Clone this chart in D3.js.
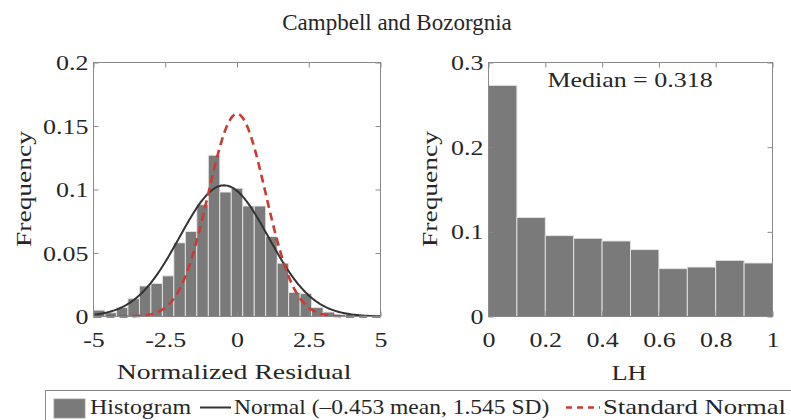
<!DOCTYPE html>
<html>
<head>
<meta charset="utf-8">
<script src="https://cdn.jsdelivr.net/npm/d3@7"></script>
<style>
  body { margin: 0; background: #fff; }
  svg { display: block; }
</style>
</head>
<body>
<svg id="chart" width="791" height="420"></svg>
<script>
// ---- data ----
// Normalized residuals: 25 bins of width 0.4 starting at -5
const residualBinStart = -5;
const residualBinWidth = 0.4;
const residualFreq = [0.005, 0.003, 0.007, 0.014, 0.024, 0.026, 0.032, 0.058, 0.067, 0.088,
                      0.127, 0.098, 0.101, 0.087, 0.087, 0.063, 0.042, 0.019, 0.018, 0.007,
                      0.0035, 0.0015, 0.001, 0.0005, 0.0003];
const residualTicks = [-5, -2.5, 0, 2.5, 5];
const residualFreqTicks = [0, 0.05, 0.1, 0.15, 0.2];

// Fitted normal and the standard normal
const fitMean = -0.453;
const fitSD = 1.545;
const stdMean = 0;
const stdSD = 1;

// LH: 10 bins of width 0.1
const lhBinStart = 0;
const lhBinWidth = 0.1;
const lhFreq = [0.273, 0.117, 0.0955, 0.0924, 0.0892, 0.079, 0.0565, 0.0584, 0.0663, 0.0632];
const lhTicks = [0, 0.2, 0.4, 0.6, 0.8, 1];
const lhFreqTicks = [0, 0.1, 0.2, 0.3];
const lhMedian = 0.318;

const titleText = "Campbell and Bozorgnia";
const legendLabels = ["Histogram", "Normal (\u20130.453 mean, 1.545 SD)", "Standard Normal"];

// ---- styling ----
const FONT = "'Liberation Serif', 'Times New Roman', serif";
const TEXT = "#262626";
const AXIS = "#8a8a8a";
const BAR = "#7a7a7a";
const BAR_EDGE = "#e6e6e6";
const RED = "#cc3a30";
const CURVE = "#333333";

const svg = d3.select("#chart");

// stretch a text element horizontally around its own anchor point
function stretch(sel, sx, rot) {
  sel.each(function () {
    const t = d3.select(this);
    const x = +t.attr("x") || 0;
    const y = +t.attr("y") || 0;
    t.attr("x", 0).attr("y", 0)
     .attr("transform", `translate(${x},${y})${rot ? ` rotate(${rot})` : ""} scale(${sx},1)`);
  });
}

function panel(opts) {
  const { x, y, bins, binStart, binWidth, xTicks, yTicks } = opts;
  const g = svg.append("g");

  g.selectAll("rect.bar")
    .data(bins)
    .join("rect")
    .attr("class", "bar")
    .attr("x", (d, i) => x(binStart + i * binWidth))
    .attr("width", (d, i) => x(binStart + (i + 1) * binWidth) - x(binStart + i * binWidth))
    .attr("y", d => y(d))
    .attr("height", d => y(0) - y(d))
    .attr("fill", BAR)
    .attr("stroke", BAR_EDGE)
    .attr("stroke-width", 0.9);

  const curves = g.append("g");

  const fmt = d => (d === 0 ? "0" : String(d));
  const [x0, x1] = x.range();
  const [y0, y1] = y.range();

  const axes = g.append("g");
  // inward ticks on all four sides
  const bottom = axes.append("g").attr("transform", `translate(0,${y0})`)
    .call(d3.axisBottom(x).tickValues(xTicks).tickFormat(fmt).tickSize(-5).tickPadding(15));
  axes.append("g").attr("transform", `translate(0,${y1})`)
    .call(d3.axisTop(x).tickValues(xTicks).tickFormat("").tickSize(-5));
  const left = axes.append("g").attr("transform", `translate(${x0},0)`)
    .call(d3.axisLeft(y).tickValues(yTicks).tickFormat(fmt).tickSize(-5).tickPadding(5));
  axes.append("g").attr("transform", `translate(${x1},0)`)
    .call(d3.axisRight(y).tickValues(yTicks).tickFormat("").tickSize(-5));

  axes.selectAll(".domain").remove();
  axes.selectAll(".tick line").attr("stroke", AXIS);
  axes.selectAll("text")
    .attr("font-family", FONT).attr("font-size", 22).attr("fill", TEXT);
  stretch(bottom.selectAll("text"), 1.18);
  stretch(left.selectAll("text"), 1.18);

  axes.append("rect")
    .attr("x", x0).attr("y", y1)
    .attr("width", x1 - x0).attr("height", y0 - y1)
    .attr("fill", "none").attr("stroke", AXIS).attr("stroke-width", 1);

  return { g, curves };
}

// ---- left panel: normalized residual ----
const xL = d3.scaleLinear().domain([-5, 5]).range([93.5, 380.5]);
const yL = d3.scaleLinear().domain([0, 0.2]).range([316.5, 62.5]);
const left = panel({ x: xL, y: yL, bins: residualFreq, binStart: residualBinStart,
                     binWidth: residualBinWidth, xTicks: residualTicks, yTicks: residualFreqTicks });

// normal pdf scaled to histogram frequency (bin width)
function pdfLine(mean, sd) {
  const pts = d3.range(-5, 5.0001, 0.05).map(v => [v,
    residualBinWidth * Math.exp(-0.5 * ((v - mean) / sd) ** 2) / (sd * Math.sqrt(2 * Math.PI))]);
  return d3.line().x(d => xL(d[0])).y(d => yL(d[1]))(pts);
}
left.curves.append("path")
  .attr("d", pdfLine(fitMean, fitSD))
  .attr("fill", "none").attr("stroke", CURVE).attr("stroke-width", 2);
left.curves.append("path")
  .attr("d", pdfLine(stdMean, stdSD))
  .attr("fill", "none").attr("stroke", RED).attr("stroke-width", 2.6)
  .attr("stroke-dasharray", "8,5");

// ---- right panel: LH ----
const xR = d3.scaleLinear().domain([0, 1]).range([488.5, 772.5]);
const yR = d3.scaleLinear().domain([0, 0.3]).range([316.5, 62.5]);
panel({ x: xR, y: yR, bins: lhFreq, binStart: lhBinStart, binWidth: lhBinWidth,
        xTicks: lhTicks, yTicks: lhFreqTicks });

// ---- labels ----
function label(txt, x, y, size, sx, rot, anchor) {
  const t = svg.append("text")
    .attr("x", x).attr("y", y)
    .attr("font-family", FONT).attr("font-size", size).attr("fill", TEXT)
    .attr("text-anchor", anchor || "middle")
    .text(txt);
  stretch(t, sx, rot);
  return t;
}

label(titleText, 397, 30, 23, 1.0);
label("Normalized Residual", 234, 379, 22, 1.26);
label("LH", 629, 380, 22, 1.2);
label("Frequency", 31, 189, 22, 1.25, -90);
label("Frequency", 437, 189, 22, 1.25, -90);
label("Median = " + lhMedian.toFixed(3), 630, 87, 22, 1.18);

// ---- legend ----
const lg = svg.append("g");
lg.append("rect")
  .attr("x", 45.5).attr("y", 390.5).attr("width", 800).attr("height", 50)
  .attr("fill", "#fff").attr("stroke", AXIS).attr("stroke-width", 1);
lg.append("rect")
  .attr("x", 54).attr("y", 399).attr("width", 31).attr("height", 19)
  .attr("fill", BAR).attr("stroke", "#9a9a9a").attr("stroke-width", 0.8);
label(legendLabels[0], 90, 414, 21, 1.14, null, "start");
lg.append("line")
  .attr("x1", 200).attr("x2", 231).attr("y1", 407.5).attr("y2", 407.5)
  .attr("stroke", CURVE).attr("stroke-width", 2);
label(legendLabels[1], 234, 414, 21, 1.12, null, "start");
lg.append("line")
  .attr("x1", 566).attr("x2", 600).attr("y1", 407.5).attr("y2", 407.5)
  .attr("stroke", RED).attr("stroke-width", 2.6).attr("stroke-dasharray", "6,5");
label(legendLabels[2], 603, 414, 21, 1.27, null, "start");
</script>
</body>
</html>
